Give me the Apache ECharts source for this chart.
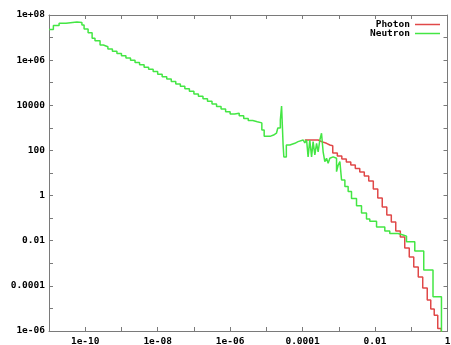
<!DOCTYPE html>
<html><head><meta charset="utf-8">
<script src="https://cdn.jsdelivr.net/npm/echarts@6/dist/echarts.min.js"></script>
<style>html,body{margin:0;padding:0;background:#fff}#c{width:451px;height:345px}</style>
</head><body><div id="c"></div>
<script>
// ---- data (energy, flux) ----
const seriesNames = ['Photon', 'Neutron'];

const photonE = [1.15e-4, 2.69e-4, 3.33e-4, 4.58e-4, 5.65e-4, 6.8e-4, 9.1e-4, 1.21e-3, 1.61e-3, 2.14e-3,
  2.85e-3, 3.79e-3, 5.05e-3, 6.7e-3, 8.95e-3, 1.19e-2, 1.58e-2, 2.11e-2, 2.81e-2, 3.73e-2,
  4.98e-2, 6.6e-2, 8.8e-2, 0.117, 0.156, 0.207, 0.276, 0.345, 0.43, 0.538, 0.673];
const photonFlux = [290, 245, 207, 174, 162, 77, 57, 42, 31, 22.6,
  15.8, 11.1, 7.4, 4.4, 1.95, 0.78, 0.31, 0.138, 0.067, 0.027,
  0.0146, 0.00475, 0.0019, 6.8e-4, 2.5e-4, 8.0e-5, 2.36e-5, 9.4e-6, 5.0e-6, 1.3e-6, 1e-8];

const neutronE = [1e-11, 1.32e-11, 1.9e-11, 2.95e-11, 5.9e-11, 8.1e-11, 9.3e-11, 1.2e-10, 1.55e-10, 1.86e-10, 2.57e-10,
  3.16e-10, 4.22e-10, 5.62e-10, 7.5e-10, 1e-9, 1.33e-9, 1.78e-9, 2.37e-9, 3.16e-9, 4.22e-9, 5.62e-9, 7.5e-9,
  1e-8, 1.33e-8, 1.78e-8, 2.37e-8, 3.16e-8, 4.22e-8, 5.62e-8, 7.5e-8, 1e-7, 1.33e-7, 1.78e-7, 2.37e-7,
  3.16e-7, 4.22e-7, 5.62e-7, 7.5e-7, 1e-6,
  1.33e-6, 1.78e-6, 2.37e-6, 3.16e-6, 4.22e-6, 5.62e-6, 7.5e-6, 8.7e-6, 1.26e-5, 1.58e-5, 1.9e-5, 2.07e-5,
  2.43e-5, 2.63e-5, 2.76e-5, 2.9e-5, 3.04e-5, 3.56e-5,
  4.45e-5, 6.1e-5, 7.5e-5, 8.4e-5, 1.04e-4, 1.15e-4, 1.29e-4, 1.42e-4, 1.58e-4, 1.77e-4,
  1.95e-4, 2.18e-4, 2.43e-4, 2.69e-4, 2.99e-4, 3.33e-4, 3.69e-4, 4.11e-4, 4.58e-4, 5.07e-4,
  5.65e-4, 6.28e-4, 6.97e-4, 8.65e-4, 9.57e-4, 1.07e-3, 1.19e-3, 1.47e-3, 1.81e-3, 2.24e-3,
  3.08e-3, 4.23e-3, 5.81e-3, 7.16e-3, 1.1e-2, 1.86e-2, 2.55e-2, 4.33e-2, 5.94e-2, 7.38e-2,
  0.125, 0.221, 0.398, 0.681];
const neutronFlux = [2.3e7, 3.4e7, 4.3e7, 4.9e7, 4.6e7, 3.6e7, 2.4e7, 1.65e7, 9.3e6, 7.3e6, 4.7e6,
  3.9e6, 3.1e6, 2.45e6, 1.95e6, 1.55e6, 1.23e6, 9.8e5, 7.8e5, 6.2e5, 4.9e5, 3.9e5, 3.1e5,
  2.4e5, 1.86e5, 1.45e5, 1.12e5, 8.7e4, 6.9e4, 5.4e4, 4.2e4, 3.2e4, 2.5e4, 1.95e4, 1.5e4,
  1.15e4, 8.9e3, 6.9e3, 5.2e3, 4.1e3,
  4.4e3, 3.4e3, 2.6e3, 2.1e3, 1.86e3, 1.66e3, 800, 420, 480, 580, 680, 980,
  2240, 9300, 1350, 174, 51, 174,
  207, 245, 207, 290, 345, 215, 290, 52, 290, 52,
  245, 63, 207, 87, 290, 575, 87, 32, 45, 27,
  45, 52, 45, 11.5, 22, 32, 4.9, 2.5, 1.5, 0.75,
  0.35, 0.17, 0.091, 0.072, 0.041, 0.027, 0.021, 0.018, 0.016, 0.0091,
  0.0035, 5.0e-4, 3.3e-5, 1e-8];

// tick labels (decade exponent -> label)
const xTickExp = [-10, -8, -6, -4, -2, 0];
const xTickLabels = ['1e-10', '1e-08', '1e-06', '0.0001', '0.01', '1'];
const yTickExp = [8, 6, 4, 2, 0, -2, -4, -6];
const yTickLabels = ['1e+08', '1e+06', '10000', '100', '1', '0.01', '0.0001', '1e-06'];

// ---- chart ----
const toPairs = (E, F) => E.map((e, i) => [Math.log10(e), Math.log10(F[i])]);
const fmt = (exps, labels) => v => { const i = exps.indexOf(Math.round(v)); return (i >= 0 && Math.abs(v - Math.round(v)) < 1e-9) ? labels[i] : ''; };
const font = { color: '#000', fontFamily: 'DejaVu Sans Mono', fontWeight: 'bold', fontSize: 9.5 };
const borderColor = '#7a7a7a';

function axis(pos, min, max, labelFn, isX) {
  return {
    type: 'value', min, max, interval: 1, position: pos,
    axisLine: { show: true, onZero: false, lineStyle: { color: borderColor, width: 1 } },
    axisTick: { show: true, inside: true, length: 4, lineStyle: { color: borderColor, width: 1 } },
    axisLabel: labelFn ? Object.assign({ show: true, formatter: labelFn, margin: isX ? 6 : 4, showMinLabel: true, showMaxLabel: true, hideOverlap: false }, font) : { show: false },
    splitLine: { show: false }
  };
}

const chart = echarts.init(document.getElementById('c'), null, { renderer: 'canvas' });
const legendBase = { orient: 'vertical', right: 11, align: 'right', padding: 0, itemWidth: 25, itemHeight: 9, itemGap: 0,
  textStyle: Object.assign({ lineHeight: 9 }, font), icon: 'path://M0,4 L25,4 L25,5.5 L0,5.5 Z' };
chart.setOption({
  animation: false,
  backgroundColor: '#fff',
  grid: { left: 49, top: 15, width: 398.5, height: 316, containLabel: false, outerBoundsMode: 'none' },
  legend: [
    Object.assign({ data: [seriesNames[0]], top: 19.5 }, legendBase),
    Object.assign({ data: [seriesNames[1]], top: 28.5 }, legendBase)
  ],
  xAxis: [axis('bottom', -11, 0, fmt(xTickExp, xTickLabels), true), axis('top', -11, 0, null, true)],
  yAxis: [axis('left', -6, 8, fmt(yTickExp, yTickLabels), false), axis('right', -6, 8, null, false)],
  series: [
    { name: seriesNames[0], type: 'line', step: 'end', symbol: 'none', clip: true,
      lineStyle: { color: '#e04848', width: 1.5 }, itemStyle: { color: '#e04848' },
      data: toPairs(photonE, photonFlux), z: 2 },
    { name: seriesNames[1], type: 'line', step: 'end', symbol: 'none', clip: true,
      lineStyle: { color: '#44e644', width: 1.5 }, itemStyle: { color: '#44e644' },
      data: toPairs(neutronE, neutronFlux), z: 3 }
  ]
});
</script></body></html>
